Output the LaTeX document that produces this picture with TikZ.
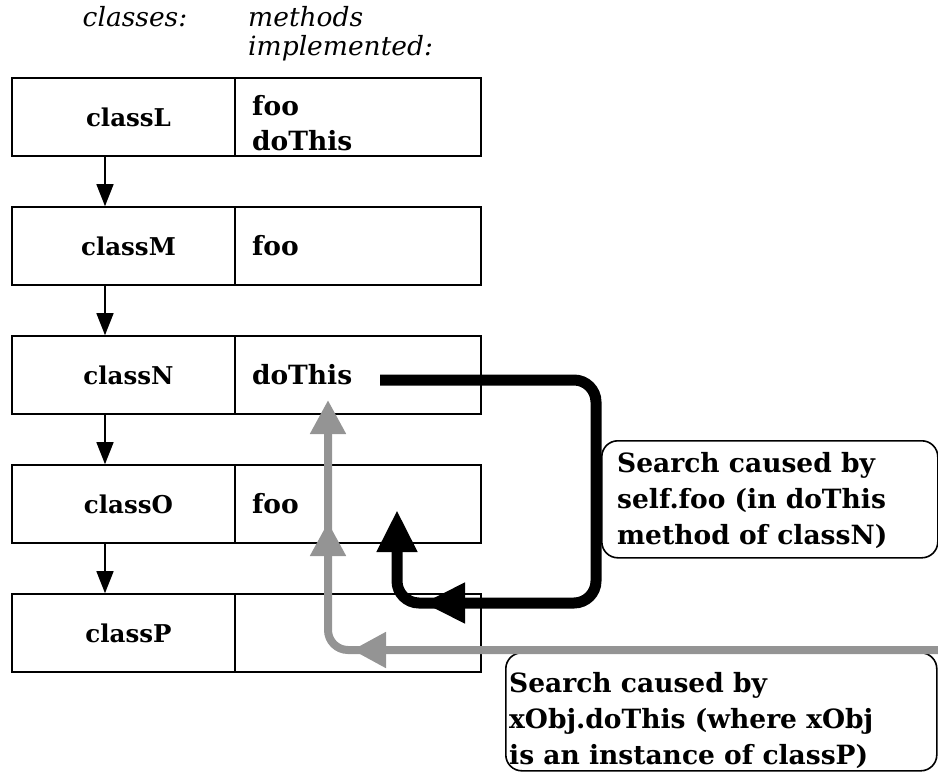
\documentclass[tikz,border=0pt]{standalone}
\usepackage{fontspec}
\setmainfont{DejaVu Serif}
\usetikzlibrary{arrows.meta}

% slab-serif text used for class names, methods and notes
\newcommand\clsfont{\bfseries\fontsize{24.5}{36}\selectfont}
\newcommand\tw{\bfseries\fontsize{26.5}{36}\selectfont}
\newcommand\hd{\itshape\fontsize{26.5}{30}\selectfont}

\begin{document}
\begin{tikzpicture}[x=1pt,y=-1pt,
  clscell/.style={draw, line width=1.6pt, minimum width=223pt, minimum height=78pt,
                  inner sep=0pt, font=\clsfont},
  mthcell/.style={draw, line width=1.6pt, minimum width=246pt, minimum height=78pt,
                  text width=212pt, inner sep=0pt, align=left, font=\tw},
  mthtext/.style={font=\tw, align=left, inner sep=0pt, anchor=west},
  header/.style={font=\hd, inner sep=0pt},
  inherit/.style={line width=1.5pt, -{Triangle[width=17pt,length=22pt]}},
  selfsearch/.style={line width=11pt, rounded corners=22pt,
                     -{Triangle[width=38pt,length=42pt]}},
  selftip/.style={line width=11pt, -{Triangle[width=38pt,length=42pt]}},
  objsearch/.style={draw=black!42, line width=8pt, rounded corners=20pt},
  objtip/.style={draw=black!42, fill=black!42, line width=8pt,
                 -{Triangle[width=34pt,length=34pt]}},
  note/.style={draw, line width=1.6pt, rounded corners=16pt, anchor=north west},
  notetext/.style={font=\tw, align=left, inner sep=0pt, anchor=west}
]
\useasboundingbox (0,0) rectangle (938,779);

% column headers
\node[header, anchor=base] (hcls) at (135,26) {classes:};
\node[header, anchor=base west] (hm1) at (248,26) {methods};
\node[header, anchor=base west] (hm2) at (248,56) {implemented:};

% class chain: name cell and method cell
\foreach \n/\y in {L/117, M/246, N/375, O/504, P/633}{
  \node[clscell] (\n) at (123.5,\y) {\hspace*{10pt}class\n};
}
\node[mthcell] (Lm) at (358,117) {};
\node[mthtext] (Lmt) at (252,123) {foo\\[-1pt]doThis};
\node[mthcell] (Mm) at (358,246) {foo};
\node[mthcell] (Nm) at (358,375) {doThis};
\node[mthcell] (Om) at (358,504) {foo};
\node[mthcell] (Pm) at (358,633) {};

% superclass links
\draw[inherit] ([xshift=-18.5pt]L.south) -- ([xshift=-18.5pt]M.north);
\draw[inherit] ([xshift=-18.5pt]M.south) -- ([xshift=-18.5pt]N.north);
\draw[inherit] ([xshift=-18.5pt]N.south) -- ([xshift=-18.5pt]O.north);
\draw[inherit] ([xshift=-18.5pt]O.south) -- ([xshift=-18.5pt]P.north);

% notes
\node[note, minimum width=336pt, minimum height=117pt] (n1) at (601,440) {};
\node[notetext] (n1t) at (617,500)
  {Search caused by\\self.foo (in doThis\\method of classN)};
\node[note, minimum width=431pt, minimum height=118pt] (n2) at (505,652) {};
\node[notetext] (n2t) at (509,720)
  {Search caused by\\xObj.doThis (where xObj\\is an instance of classP)};

% search started by self.foo
\coordinate (s0) at (380,380);
\coordinate (s1) at (596,380);
\coordinate (s2) at (596,603);
\coordinate (s3) at (397,603);
\coordinate (s4) at (397,510);
\coordinate (sm) at (462,603);
\coordinate (smt) at (423,603);
\draw[selfsearch] (s0) -- (s1) -- (s2) -- (s3) -- (s4);
\draw[selftip] (sm) -- (smt);

% search started by xObj.doThis
\coordinate (g0) at (938,650);
\coordinate (g1) at (328,650);
\coordinate (g2) at (328,400);
\coordinate (g3) at (328,430);
\coordinate (gl) at (352,650);
\coordinate (gu) at (328,522);
\draw[objsearch] (g0) -- (g1) -- (g3);
\draw[objtip] (388,650) -- (gl);
\draw[objtip] (328,556) -- (gu);
\draw[objtip] (328,434) -- (g2);
\end{tikzpicture}
\end{document}
